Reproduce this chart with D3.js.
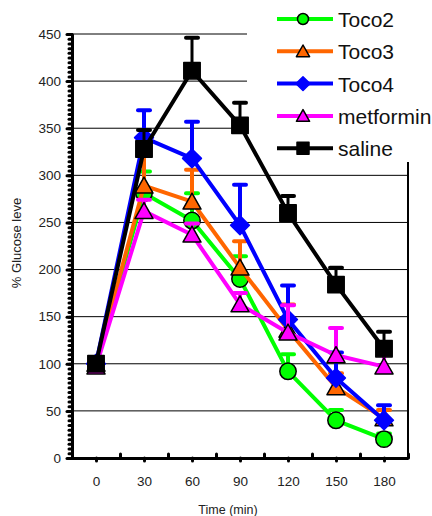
<!DOCTYPE html>
<html>
<head>
<meta charset="utf-8">
<script src="https://cdn.jsdelivr.net/npm/d3@7"></script>
<style>
    body { margin: 0; background: #fff; }
    svg { display: block; font-family: "Liberation Sans", Arial, sans-serif; }
</style>
</head>
<body>
<svg width="432" height="516"></svg>
<script>
// data
const times = [0, 30, 60, 90, 120, 150, 180];
const toco2 = [100, 281, 252, 190, 92, 40, 20];
const toco2Sem = [2, 23, 29, 24, 18, 11, 6];
const toco3 = [100, 289, 272, 202, 136, 75, 42];
const toco3Sem = [2, 36, 34, 28, 27, 15, 9];
const toco4 = [100, 340, 318, 247, 147, 85, 40];
const toco4Sem = [2, 29, 39, 43, 36, 27, 16];
const metformin = [97, 262, 237, 163, 133, 109, 97];
const metforminSem = [2, 12, 12, 12, 29, 29, 25];
const saline = [100, 328, 411, 353, 260, 184, 116];
const salineSem = [2, 20, 35, 24, 18, 18, 18];
const yTicks = [0, 50, 100, 150, 200, 250, 300, 350, 400, 450];
const xTicks = [0, 30, 60, 90, 120, 150, 180];

const series = [
    { name: "Toco2", values: toco2, sem: toco2Sem, color: "#00ff00", shape: "circle" },
    { name: "Toco3", values: toco3, sem: toco3Sem, color: "#ff6600", shape: "triangle" },
    { name: "Toco4", values: toco4, sem: toco4Sem, color: "#0000ff", shape: "diamond" },
    { name: "metformin", values: metformin, sem: metforminSem, color: "#ff00ff", shape: "triangle" },
    { name: "saline", values: saline, sem: salineSem, color: "#000000", shape: "square" },
];

const svg = d3.select("svg");
const plotLeft = 72, plotRight = 408, plotTop = 34, plotBottom = 458;

const x = d3.scaleLinear().domain([-15, 195]).range([plotLeft, plotRight]);
const y = d3.scaleLinear().domain([0, 450]).range([plotBottom, plotTop]);

// marker path, s = half size
function shapePath(shape, s) {
    if (shape === "triangle") return `M0,${-s * 1.05}L${s * 1.1},${s * 0.9}L${-s * 1.1},${s * 0.9}Z`;
    if (shape === "diamond") return `M0,${-s * 1.15}L${s * 1.15},0L0,${s * 1.15}L${-s * 1.15},0Z`;
    return `M${-s},${-s}H${s}V${s}H${-s}Z`;
}

function drawMarker(g, shape, s, color) {
    if (shape === "circle") {
        g.append("circle").attr("r", s).attr("fill", color).attr("stroke", "#000").attr("stroke-width", 1.5);
    } else {
        g.append("path").attr("d", shapePath(shape, s)).attr("fill", color)
            .attr("stroke", shape === "diamond" ? color : "#000").attr("stroke-width", 1.5)
            .attr("stroke-linejoin", "round");
    }
}

// gridlines
svg.append("g")
    .selectAll("line")
    .data(yTicks.filter((d) => d > 0))
    .enter()
    .append("line")
    .attr("x1", plotLeft)
    .attr("x2", plotRight)
    .attr("y1", (d) => y(d))
    .attr("y2", (d) => y(d))
    .attr("stroke", "#000")
    .attr("stroke-width", 1);

// legend background hides the top right of the grid
svg.append("rect").attr("x", 247).attr("y", 0).attr("width", 185).attr("height", 162).attr("fill", "#fff");

// right border
svg.append("line").attr("x1", plotRight).attr("x2", plotRight).attr("y1", 162).attr("y2", plotBottom)
    .attr("stroke", "#000").attr("stroke-width", 2);

// y axis
const yMinor = d3.range(0, 451, 5);
svg.append("g")
    .attr("transform", `translate(${plotLeft},0)`)
    .call(d3.axisLeft(y).tickValues(yMinor).tickSize(3).tickFormat(""))
    .call((g) => g.select(".domain").remove())
    .call((g) => g.selectAll("line").attr("stroke-width", 3).attr("stroke-linecap", "round"));

svg.append("g")
    .attr("transform", `translate(${plotLeft},0)`)
    .call(d3.axisLeft(y).tickValues(yTicks).tickSize(5).tickPadding(6).tickSizeOuter(0))
    .call((g) => g.select(".domain").attr("stroke-width", 3))
    .call((g) => g.selectAll("line").attr("stroke-width", 3).attr("stroke-linecap", "round"))
    .call((g) => g.selectAll("text").attr("font-size", 13.5).attr("fill", "#222"));

// x axis
svg.append("g")
    .attr("transform", `translate(0,${plotBottom})`)
    .call(d3.axisBottom(x).tickValues([15, 45, 75, 105, 135, 165, 195]).tickSize(-4).tickFormat(""))
    .call((g) => g.select(".domain").remove())
    .call((g) => g.selectAll("line").attr("stroke-width", 3).attr("stroke-linecap", "round"));

svg.append("g")
    .attr("transform", `translate(0,${plotBottom})`)
    .call(d3.axisBottom(x).tickValues(xTicks).tickSize(3).tickPadding(15).tickSizeOuter(0))
    .call((g) => g.select(".domain").attr("stroke-width", 3))
    .call((g) => g.selectAll("line").attr("stroke-width", 3).attr("stroke-linecap", "round"))
    .call((g) => g.selectAll("text").attr("font-size", 13.5).attr("fill", "#222"));

// axis titles
svg.append("text")
    .attr("transform", "translate(21,243) rotate(-90)")
    .attr("text-anchor", "middle")
    .attr("font-size", 13)
    .attr("fill", "#222")
    .text("% Glucose leve");

svg.append("text")
    .attr("x", 228)
    .attr("y", 514)
    .attr("text-anchor", "middle")
    .attr("font-size", 12.5)
    .attr("fill", "#222")
    .text("Time (min)");

// series
const line = d3.line().x((d, i) => x(times[i])).y((d) => y(d));

series.forEach((s) => {
    const g = svg.append("g");
    // error bars (upper only)
    s.values.forEach((v, i) => {
        const cx = x(times[i]);
        g.append("line").attr("x1", cx).attr("x2", cx).attr("y1", y(v)).attr("y2", y(v + s.sem[i]))
            .attr("stroke", s.color).attr("stroke-width", s.color === "#000000" ? 3 : 4);
        g.append("line").attr("x1", cx - 6).attr("x2", cx + 6).attr("y1", y(v + s.sem[i])).attr("y2", y(v + s.sem[i]))
            .attr("stroke", s.color).attr("stroke-width", 4).attr("stroke-linecap", "round");
    });
    g.append("path").attr("d", line(s.values)).attr("fill", "none")
        .attr("stroke", s.color).attr("stroke-width", 4).attr("stroke-linejoin", "round");
    s.values.forEach((v, i) => {
        const m = g.append("g").attr("transform", `translate(${x(times[i])},${y(v)})`);
        drawMarker(m, s.shape, 8.2, s.color);
    });
});

// legend
const legend = svg.append("g");
series.forEach((s, i) => {
    const cy = 19 + i * 32.3;
    legend.append("line").attr("x1", 277).attr("x2", 333).attr("y1", cy).attr("y2", cy)
        .attr("stroke", s.color).attr("stroke-width", 4);
    const m = legend.append("g").attr("transform", `translate(303,${cy})`);
    drawMarker(m, s.shape, s.shape === "circle" ? 5.5 : 6, s.color);
    legend.append("text").attr("x", 338).attr("y", cy + 8).attr("font-size", 21).attr("fill", "#111").text(s.name);
});
</script>
</body>
</html>
